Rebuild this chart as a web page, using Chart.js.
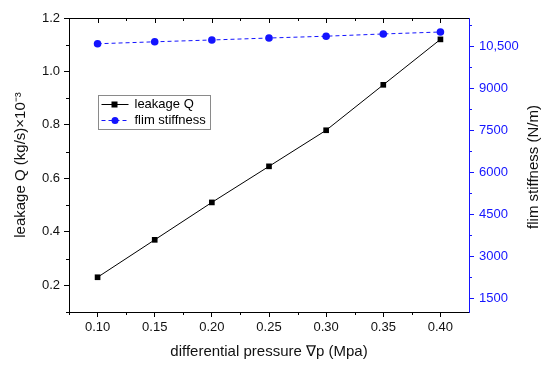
<!doctype html>
<html>
<head>
<meta charset="utf-8">
<title>leakage and flim stiffness</title>
<script src="https://cdn.jsdelivr.net/npm/chart.js@4.4.0/dist/chart.umd.min.js"></script>
<style>
  html, body { margin: 0; padding: 0; background: #fff; }
  #wrap { width: 550px; height: 371px; }
</style>
</head>
<body>
<div id="wrap"><canvas id="canvas"></canvas></div>
<script>
// data
var pressure  = [0.10, 0.15, 0.20, 0.25, 0.30, 0.35, 0.40];
var leakage   = [0.23, 0.37, 0.51, 0.645, 0.78, 0.95, 1.12];
var stiffness = [10580, 10650, 10715, 10785, 10850, 10930, 11000];

var xTicks     = [0.10, 0.15, 0.20, 0.25, 0.30, 0.35, 0.40];
var leftTicks  = [0.2, 0.4, 0.6, 0.8, 1.0, 1.2];
var rightTicks = [1500, 3000, 4500, 6000, 7500, 9000, 10500];
var rightTitle = 'flim stiffness (N/m)';

var BLUE = '#1414ff';
var FONT = 'Liberation Sans, Arial, sans-serif';

function pts(ys) {
  return pressure.map(function (x, i) { return { x: x, y: ys[i] }; });
}
function setTicks(list) {
  return function (scale) { scale.ticks = list.map(function (v) { return { value: v }; }); };
}
// midpoints between majors, plus one step beyond each end
function minors(list) {
  var out = [], step = list[1] - list[0];
  out.push(list[0] - step / 2);
  for (var i = 0; i < list.length; i++) out.push(list[i] + step / 2);
  return out;
}

var extraTicks = {
  id: 'extraTicks',
  afterDraw: function (chart) {
    var ctx = chart.ctx, a = chart.chartArea, s = chart.scales;
    ctx.save();
    ctx.lineWidth = 1;
    // top frame line
    ctx.strokeStyle = '#000';
    ctx.beginPath();
    ctx.moveTo(a.left, a.top + 0.5);
    ctx.lineTo(a.right, a.top + 0.5);
    ctx.stroke();

    function tick(x1, y1, x2, y2) {
      ctx.beginPath(); ctx.moveTo(x1, y1); ctx.lineTo(x2, y2); ctx.stroke();
    }
    // x: minor below, major+minor mirrored on top
    minors(xTicks).forEach(function (v) {
      if (v < s.x.min || v > s.x.max) return;
      var px = Math.round(s.x.getPixelForValue(v)) + 0.5;
      tick(px, a.bottom, px, a.bottom + 3);
      tick(px, a.top, px, a.top + 3);
    });
    xTicks.forEach(function (v) {
      var px = Math.round(s.x.getPixelForValue(v)) + 0.5;
      tick(px, a.top, px, a.top + 5);
    });
    // left minor
    minors(leftTicks).forEach(function (v) {
      if (v < s.y.min || v > s.y.max) return;
      var py = Math.round(s.y.getPixelForValue(v)) + 0.5;
      tick(a.left - 3, py, a.left, py);
    });
    // right minor
    ctx.strokeStyle = BLUE;
    minors(rightTicks).forEach(function (v) {
      if (v < s.y2.min || v > s.y2.max) return;
      var py = Math.round(s.y2.getPixelForValue(v)) + 0.5;
      tick(a.right, py, a.right + 3, py);
    });

    // right axis title, reading bottom to top
    ctx.save();
    ctx.translate(534, (a.top + a.bottom) / 2 + 2);
    ctx.rotate(-Math.PI / 2);
    ctx.font = '15px ' + FONT;
    ctx.fillStyle = '#111';
    ctx.textAlign = 'center';
    ctx.textBaseline = 'middle';
    ctx.fillText(rightTitle, 0, 0);
    ctx.restore();

    // legend box
    var bx = 98.5, by = 95.5, bw = 112, bh = 34;
    ctx.strokeStyle = '#8a8a8a';
    ctx.strokeRect(bx, by, bw, bh);
    ctx.font = '13px ' + FONT;
    ctx.textBaseline = 'middle';
    ctx.fillStyle = '#000';
    var ds = chart.data.datasets;
    [0, 1].forEach(function (i) {
      var d = ds[i], y = by + 9 + i * 16;
      ctx.strokeStyle = d.borderColor;
      ctx.setLineDash(d.borderDash || []);
      tick(bx + 3, y, bx + 30, y);
      ctx.setLineDash([]);
      ctx.fillStyle = d.pointBackgroundColor;
      if (d.pointStyle === 'rect') {
        ctx.fillRect(bx + 13, y - 3, 6, 6);
      } else {
        ctx.beginPath(); ctx.arc(bx + 16.5, y, 3.5, 0, Math.PI * 2); ctx.fill();
      }
      ctx.fillStyle = '#000';
      ctx.fillText(d.label, bx + 36, y);
    });
    ctx.restore();
  }
};

new Chart(document.getElementById('canvas'), {
  type: 'line',
  data: {
    datasets: [{
      label: 'leakage Q',
      data: pts(leakage),
      yAxisID: 'y',
      borderColor: '#000',
      backgroundColor: '#000',
      pointBackgroundColor: '#000',
      borderWidth: 1,
      pointStyle: 'rect',
      pointRadius: 4,
      pointBorderWidth: 0,
      fill: false
    }, {
      label: 'flim stiffness',
      data: pts(stiffness),
      yAxisID: 'y2',
      borderColor: BLUE,
      backgroundColor: BLUE,
      pointBackgroundColor: BLUE,
      borderWidth: 1,
      borderDash: [4, 3],
      pointStyle: 'circle',
      pointRadius: 3.8,
      pointBorderWidth: 0,
      fill: false
    }]
  },
  options: {
    responsive: true,
    maintainAspectRatio: false,
    animation: false,
    layout: { padding: { top: 18, left: 0, right: 0, bottom: 0 } },
    plugins: { legend: { display: false }, tooltip: { enabled: false } },
    scales: {
      x: {
        type: 'linear',
        min: 0.075, max: 0.425,
        afterBuildTicks: setTicks(xTicks),
        afterFit: function (s) { s.height = 59; },
        grid: { drawOnChartArea: false, drawTicks: true, tickLength: 5, color: '#000' },
        border: { color: '#000', width: 1 },
        ticks: { padding: 3, color: '#111', font: { family: FONT, size: 13 },
                 callback: function (v) { return Number(v).toFixed(2); } },
        title: { display: true, text: 'differential pressure \u2207p (Mpa)', color: '#111',
                 font: { family: FONT, size: 15 }, padding: { top: 0, bottom: 10 } }
      },
      y: {
        position: 'left',
        min: 0.1, max: 1.2,
        afterBuildTicks: setTicks(leftTicks),
        afterFit: function (s) { s.width = 69; },
        grid: { drawOnChartArea: false, drawTicks: true, tickLength: 5, color: '#000' },
        border: { color: '#000', width: 1 },
        ticks: { padding: 4, color: '#111', font: { family: FONT, size: 13 },
                 callback: function (v) { return Number(v).toFixed(1); } },
        title: { display: true, text: 'leakage Q (kg/s)\u00d710\u207b\u00b3', color: '#111',
                 font: { family: FONT, size: 15 }, padding: { top: 12, bottom: 0 } }
      },
      y2: {
        position: 'right',
        min: 1000, max: 11500,
        afterBuildTicks: setTicks(rightTicks),
        afterFit: function (s) { s.width = 81; },
        grid: { drawOnChartArea: false, drawTicks: true, tickLength: 5, color: BLUE },
        border: { color: BLUE, width: 1 },
        ticks: { padding: 5, color: BLUE, font: { family: FONT, size: 13 },
                 callback: function (v) { return v === 10500 ? '10,500' : String(v); } },
        title: { display: false }
      }
    }
  },
  plugins: [extraTicks]
});
</script>
</body>
</html>
